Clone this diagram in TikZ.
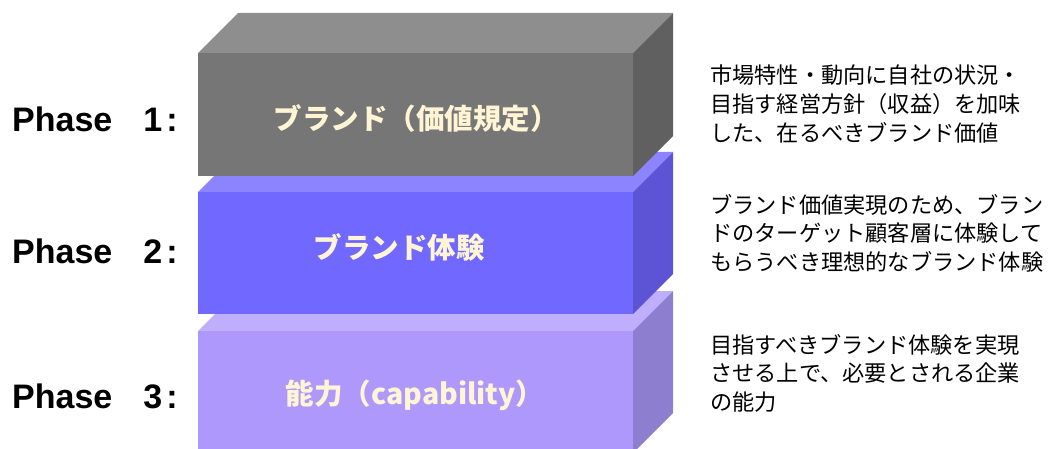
\documentclass[tikz,border=0pt]{standalone}
\usepackage{fontspec}
\newfontfamily\jp{Noto Sans CJK JP}
\newfontfamily\phasefont{Liberation Sans}
\definecolor{gfront}{HTML}{767676}
\definecolor{gtop}{HTML}{8E8E8E}
\definecolor{gside}{HTML}{606060}
\definecolor{bfront}{HTML}{7068FF}
\definecolor{btop}{HTML}{8C84FF}
\definecolor{bside}{HTML}{5C54D4}
\definecolor{lfront}{HTML}{AE98FC}
\definecolor{ltop}{HTML}{BEAEFC}
\definecolor{lside}{HTML}{8E7ED0}
\definecolor{cream}{HTML}{FFF5D5}
\tikzset{
  boxtext/.style={text=cream, font=\jp\bfseries\fontsize{28.5}{31}\selectfont, inner sep=0pt},
  phaselabel/.style={anchor=base west, font=\phasefont\bfseries\fontsize{34}{36}\selectfont, inner sep=0pt},
  desc/.style={anchor=west, font=\jp\fontsize{22.2}{26}\selectfont, inner sep=0pt, text=black}
}
\newcommand{\prismbox}[6]{%
  % #1 left x, #2 front top y, #3 height, #4 front, #5 top, #6 side
  \fill[#5] (198,#2) -- (238,#2-40) -- (673,#2-40) -- (633,#2) -- cycle;
  \fill[#6] (633,#2) -- (673,#2-40) -- (673,#2+#3-40) -- (633,#2+#3) -- cycle;
  \fill[#4] (198,#2) rectangle (633,#2+#3);
}
\begin{document}
\begin{tikzpicture}[x=1pt,y=-1pt]
\useasboundingbox (0,0) rectangle (1051,449);
\begin{scope}
\clip (0,0) rectangle (1051,449);
\prismbox{198}{331}{122}{lfront}{ltop}{lside}
\prismbox{198}{192}{122}{bfront}{btop}{bside}
\prismbox{198}{53}{123}{gfront}{gtop}{gside}
\end{scope}
\node[boxtext] (t1) at (416,118) {ブランド（価値規定）};
\node[boxtext] (t2) at (399,247) {ブランド体験};
\node[boxtext] (t3) at (415,395) {能力（capability）};
\node[phaselabel] (p1) at (12,132) {Phase\hspace{31pt}1\hspace{4pt}:};
\node[phaselabel] (p2) at (12,263) {Phase\hspace{31pt}2\hspace{4pt}:};
\node[phaselabel] (p3) at (12,408) {Phase\hspace{31pt}3\hspace{4pt}:};
\node[desc] (d11) at (710,75) {市場特性・動向に自社の状況・};
\node[desc] (d12) at (710,104) {目指す経営方針（収益）を加味};
\node[desc] (d13) at (710,133) {した、在るべきブランド価値};
\node[desc] (d21) at (710,205) {ブランド価値実現のため、ブラン};
\node[desc] (d22) at (710,233) {ドのターゲット顧客層に体験して};
\node[desc] (d23) at (710,262) {もらうべき理想的なブランド体験};
\node[desc] (d31) at (710,345) {目指すべきブランド体験を実現};
\node[desc] (d32) at (710,373) {させる上で、必要とされる企業};
\node[desc] (d33) at (710,402) {の能力};
\end{tikzpicture}
\end{document}
